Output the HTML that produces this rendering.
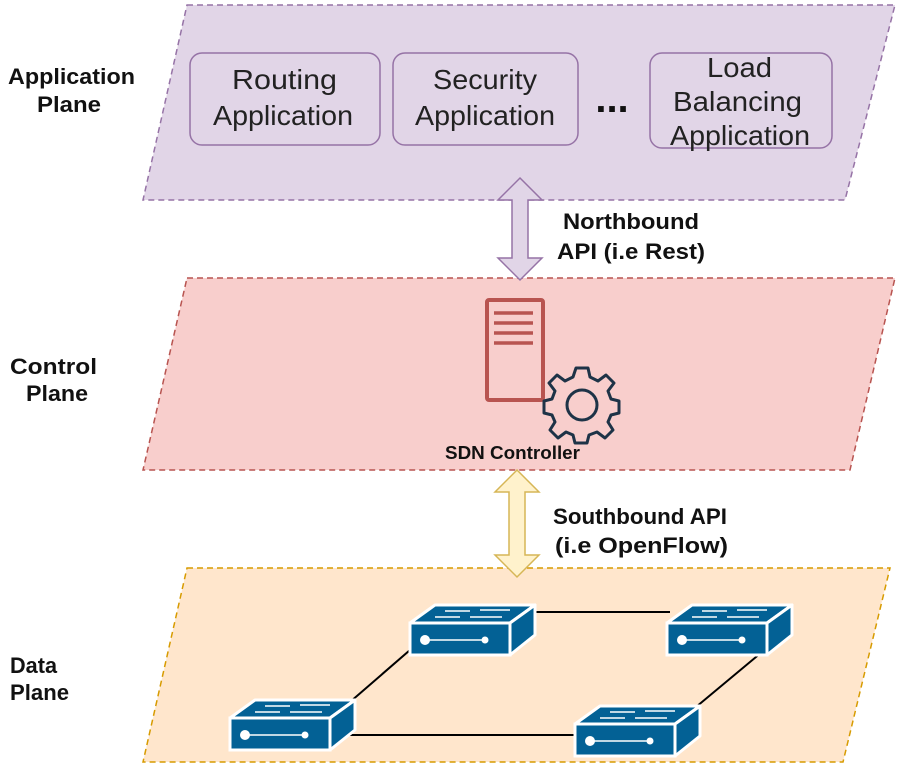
<!DOCTYPE html>
<html><head><meta charset="utf-8"><style>html,body{margin:0;padding:0;background:#fff}svg{display:block}</style></head>
<body>
<svg width="900" height="767" viewBox="0 0 900 767" xmlns="http://www.w3.org/2000/svg" font-family="Liberation Sans, sans-serif">
<defs>
<g id="sw">
<polygon points="25,0 125,0 100,18 0,18" fill="#036195" stroke="#fff" stroke-width="3" stroke-linejoin="round"/>
<rect x="0" y="18" width="100" height="32" fill="#036195" stroke="#fff" stroke-width="3"/>
<polygon points="100,18 125,0 125,30 100,50" fill="#036195" stroke="#fff" stroke-width="3" stroke-linejoin="round"/>
<g stroke="#fff" stroke-width="1.5">
<line x1="35" y1="6" x2="60" y2="6"/><line x1="70" y1="5" x2="100" y2="5"/>
<line x1="25" y1="12" x2="50" y2="12"/><line x1="60" y1="12" x2="92" y2="12"/>
<line x1="15" y1="35" x2="75" y2="35"/>
</g>
<circle cx="15" cy="35" r="5" fill="#fff"/><circle cx="75" cy="35" r="3.5" fill="#fff"/>
</g>
</defs>
<!-- Application plane -->
<polygon points="187,5 895,5 845,200 143,200" fill="#e1d5e7" stroke="#9673a6" stroke-width="1.5" stroke-dasharray="6,4"/>
<g fill="none" stroke="#9673a6" stroke-width="1.5">
<rect x="190" y="53" width="190" height="92" rx="12"/>
<rect x="393" y="53" width="185" height="92" rx="12"/>
<rect x="650" y="53" width="182" height="95" rx="12"/>
</g>
<g font-size="28" fill="#222" lengthAdjust="spacingAndGlyphs">
<text x="232" y="89" textLength="105" lengthAdjust="spacingAndGlyphs">Routing</text><text x="213" y="125" textLength="140" lengthAdjust="spacingAndGlyphs">Application</text>
<text x="433" y="89" textLength="104" lengthAdjust="spacingAndGlyphs">Security</text><text x="415" y="125" textLength="140" lengthAdjust="spacingAndGlyphs">Application</text>
<text x="707" y="77" textLength="65" lengthAdjust="spacingAndGlyphs">Load</text><text x="673" y="111" textLength="129" lengthAdjust="spacingAndGlyphs">Balancing</text><text x="670" y="145" textLength="140" lengthAdjust="spacingAndGlyphs">Application</text>
</g>
<text x="612" y="112" font-size="40" font-weight="bold" text-anchor="middle" fill="#111">...</text>
<!-- Control plane -->
<polygon points="187,278 895,278 850,470 143,470" fill="#f8cecc" stroke="#b85450" stroke-width="1.5" stroke-dasharray="6,4"/>
<rect x="487" y="300" width="56" height="100" rx="2" fill="none" stroke="#b85450" stroke-width="4"/>
<g stroke="#b85450" stroke-width="3.5"><line x1="494" y1="313" x2="533" y2="313"/><line x1="494" y1="323" x2="533" y2="323"/><line x1="494" y1="333" x2="533" y2="333"/><line x1="494" y1="343" x2="533" y2="343"/></g>
<g transform="translate(582,404)" fill="#f8cecc" stroke="#1e3347" stroke-width="3">
<path d="M-6,-36 L6,-36 L8,-27 L16,-23 L24,-29 L32,-21 L26,-13 L29,-5 L37,-3 L37,9 L29,11 L26,18 L31,26 L23,34 L15,28 L7,31 L5,39 L-7,39 L-9,31 L-16,28 L-24,34 L-32,26 L-27,18 L-30,11 L-38,9 L-38,-3 L-30,-5 L-27,-13 L-33,-21 L-25,-29 L-17,-23 L-9,-27 Z" stroke-linejoin="round"/>
<circle cx="0" cy="1" r="15"/>
</g>
<text x="445" y="459" font-size="18" font-weight="bold" fill="#111" textLength="135" lengthAdjust="spacingAndGlyphs">SDN Controller</text>
<!-- Data plane -->
<polygon points="187,568 890,568 843,762 143,762" fill="#ffe6cc" stroke="#d79b00" stroke-width="1.5" stroke-dasharray="6,4"/>
<g stroke="#000" stroke-width="2">
<line x1="535" y1="612" x2="670" y2="612"/>
<line x1="410" y1="650" x2="350" y2="702"/>
<line x1="342" y1="735" x2="580" y2="735"/>
<line x1="762" y1="652" x2="690" y2="712"/>
</g>
<use href="#sw" x="410" y="605"/>
<use href="#sw" x="667" y="605"/>
<use href="#sw" x="230" y="700"/>
<use href="#sw" x="575" y="706"/>
<!-- Arrows -->
<polygon points="520,178 542,200 528,200 528,258 542,258 520,280 498,258 512,258 512,200 498,200" fill="#e1d5e7" stroke="#9673a6" stroke-width="1.5"/>
<polygon points="517,470 539,492 525,492 525,555 539,555 517,577 495,555 509,555 509,492 495,492" fill="#fff2cc" stroke="#d6b656" stroke-width="1.5"/>
<g font-size="22" font-weight="bold" fill="#111">
<text x="563" y="229" textLength="136" lengthAdjust="spacingAndGlyphs">Northbound</text><text x="557" y="259" textLength="148" lengthAdjust="spacingAndGlyphs">API (i.e Rest)</text>
<text x="553" y="524" textLength="174" lengthAdjust="spacingAndGlyphs">Southbound API</text><text x="555" y="553" textLength="173" lengthAdjust="spacingAndGlyphs">(i.e OpenFlow)</text>
</g>
<g font-size="22" font-weight="bold" fill="#111">
<text x="8" y="84" textLength="127" lengthAdjust="spacingAndGlyphs">Application</text><text x="37" y="112" textLength="64" lengthAdjust="spacingAndGlyphs">Plane</text>
<text x="10" y="374" textLength="87" lengthAdjust="spacingAndGlyphs">Control</text><text x="26" y="401" textLength="62" lengthAdjust="spacingAndGlyphs">Plane</text>
<text x="10" y="673" textLength="47" lengthAdjust="spacingAndGlyphs">Data</text><text x="10" y="700" textLength="59" lengthAdjust="spacingAndGlyphs">Plane</text>
</g>
</svg>
</body></html>
